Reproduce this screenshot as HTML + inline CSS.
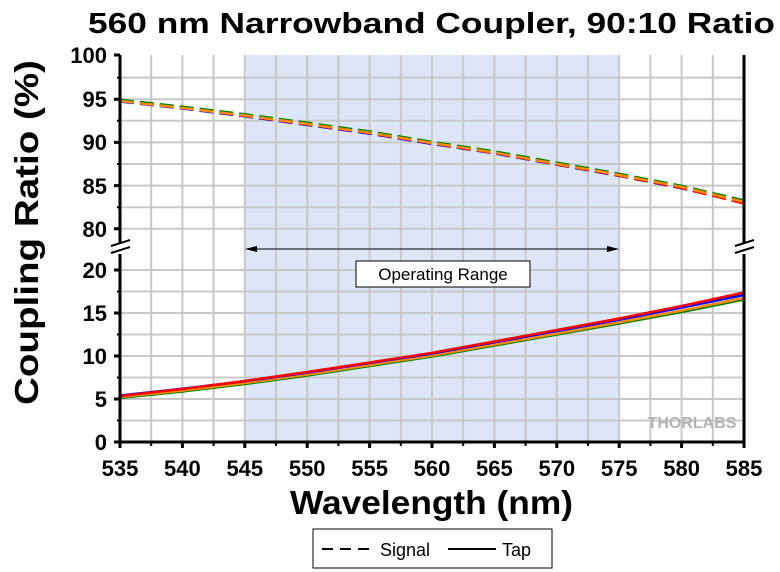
<!DOCTYPE html>
<html><head><style>body{margin:0;background:#fff}svg{display:block}</style></head><body>
<svg width="780" height="572" xmlns="http://www.w3.org/2000/svg" font-family="Liberation Sans, Arial, sans-serif">
<rect width="780" height="572" fill="#fff"/>
<rect x="244.8" y="55" width="374.4" height="387" fill="#dce6f6"/>
<g stroke="#c8c8c8" stroke-width="2">
<path d="M151.2 55V442M182.4 55V442M213.6 55V442M244.8 55V442M276 55V442M307.2 55V442M338.4 55V442M369.6 55V442M400.8 55V442M432 55V442M463.2 55V442M494.4 55V442M525.6 55V442M556.8 55V442M588 55V442M619.2 55V442M650.4 55V442M681.6 55V442M712.8 55V442"/>
<path d="M120 77.6H744M120 99.2H744M120 120.8H744M120 142.4H744M120 164H744M120 185.6H744M120 207.2H744M120 228.8H744"/>
<path d="M120 270H744M120 291.5H744M120 313H744M120 334.5H744M120 356H744M120 377.5H744M120 399H744M120 420.5H744"/>
</g>
<g fill="none" stroke-width="2.5" stroke-dasharray="14,6">
<polyline stroke="#0000ff" points="120,101.5 182.4,108.5 244.8,116.3 307.2,124.9 369.6,133.6 432,143.9 494.4,153.4 556.8,164.7 619.2,175.9 681.6,188.3 744,203"/>
<polyline stroke="#ff0000" points="120,101 182.4,108 244.8,115.8 307.2,124.4 369.6,133.1 432,143.4 494.4,153.1 556.8,164.4 619.2,175.6 681.6,188 744,203.5"/>
<polyline stroke="#008000" points="120,99.8 182.4,106.7 244.8,114.3 307.2,122.8 369.6,131.5 432,141.9 494.4,151.4 556.8,162.6 619.2,173.8 681.6,185.8 744,200.5"/>
<polyline stroke="#ff8c00" points="120,101 182.4,108 244.8,115.5 307.2,124 369.6,132.8 432,143 494.4,152.6 556.8,163.9 619.2,175 681.6,187 744,202"/>
</g>
<g fill="none" stroke-width="2.5">
<polyline stroke="#008000" points="120,398 182.4,391.5 244.8,384 307.2,375.5 369.6,366 432,356.5 494.4,345.5 556.8,334.5 619.2,323.5 681.6,312 744,299.5"/>
<polyline stroke="#ff8c00" points="120,397 182.4,390.5 244.8,383 307.2,374.5 369.6,365 432,355.5 494.4,344.5 556.8,333.5 619.2,322.3 681.6,310.5 744,298"/>
<polyline stroke="#0000ff" points="120,395.5 182.4,388.7 244.8,381.2 307.2,372.6 369.6,363 432,353.5 494.4,342.3 556.8,331 619.2,319.8 681.6,307.5 744,295"/>
<polyline stroke="#ff0000" points="120,396 182.4,389 244.8,381 307.2,372 369.6,362.5 432,352.8 494.4,341.5 556.8,330 619.2,318.5 681.6,306 744,292.5"/>
</g>
<g stroke="#000" stroke-width="3" fill="none">
<path d="M120 55V244M120 254V442H744V254M744 244V55"/>
<path d="M114 55H120M114 99.2H120M114 142.4H120M114 185.6H120M114 228.8H120M114 270H120M114 313H120M114 356H120M114 399H120M114 442H120"/>
<path d="M117 77.6H120M117 120.8H120M117 164H120M117 207.2H120M117 291.5H120M117 334.5H120M117 377.5H120M117 420.5H120" stroke-width="2"/>
<path d="M120 442V448M182.4 442V448M244.8 442V448M307.2 442V448M369.6 442V448M432 442V448M494.4 442V448M556.8 442V448M619.2 442V448M681.6 442V448M744 442V448"/>
<path d="M151.2 442V446M213.6 442V446M276 442V446M338.4 442V446M400.8 442V446M463.2 442V446M525.6 442V446M588 442V446M650.4 442V446M712.8 442V446" stroke-width="2"/>
<path d="M111 246L130 240M111 253L130 247M735 246L754 240M735 253L754 247" stroke-width="2"/>
</g>
<line x1="246" y1="249" x2="618" y2="249" stroke="#000" stroke-width="1"/>
<path d="M245 249l12-3v6zM619 249l-12-3v6z" fill="#000"/>
<rect x="356" y="261" width="174" height="26" fill="#fff" stroke="#000" stroke-width="1"/>
<text x="443" y="280" font-size="17" text-anchor="middle">Operating Range</text>
<text x="692" y="428" font-size="16" font-weight="bold" fill="#b4b4b4" text-anchor="middle">THORLABS</text>
<g font-size="22" font-weight="bold" text-anchor="end">
<text x="107" y="63">100</text><text x="107" y="107">95</text><text x="107" y="150">90</text><text x="107" y="194">85</text><text x="107" y="237">80</text>
<text x="107" y="278">20</text><text x="107" y="321">15</text><text x="107" y="364">10</text><text x="107" y="407">5</text><text x="107" y="450">0</text>
</g>
<g font-size="22" font-weight="bold" text-anchor="middle">
<text x="120" y="476">535</text><text x="182.4" y="476">540</text><text x="244.8" y="476">545</text><text x="307.2" y="476">550</text><text x="369.6" y="476">555</text><text x="432" y="476">560</text><text x="494.4" y="476">565</text><text x="556.8" y="476">570</text><text x="619.2" y="476">575</text><text x="681.6" y="476">580</text><text x="744" y="476">585</text>
</g>
<text x="290" y="514" font-size="33" font-weight="bold" textLength="283" lengthAdjust="spacingAndGlyphs">Wavelength (nm)</text>
<text transform="translate(38,405) rotate(-90)" font-size="33" font-weight="bold" textLength="345" lengthAdjust="spacingAndGlyphs">Coupling Ratio (%)</text>
<text x="88" y="33" font-size="29" font-weight="bold" textLength="687" lengthAdjust="spacingAndGlyphs">560 nm Narrowband Coupler, 90:10 Ratio</text>
<rect x="313" y="529" width="239" height="39" fill="#fff" stroke="#000" stroke-width="1"/>
<path d="M322 549H370" stroke="#000" stroke-width="2" stroke-dasharray="11,7"/>
<text x="380" y="556" font-size="18">Signal</text>
<path d="M448 549H496" stroke="#000" stroke-width="2"/>
<text x="502" y="556" font-size="18">Tap</text>
</svg>
</body></html>
